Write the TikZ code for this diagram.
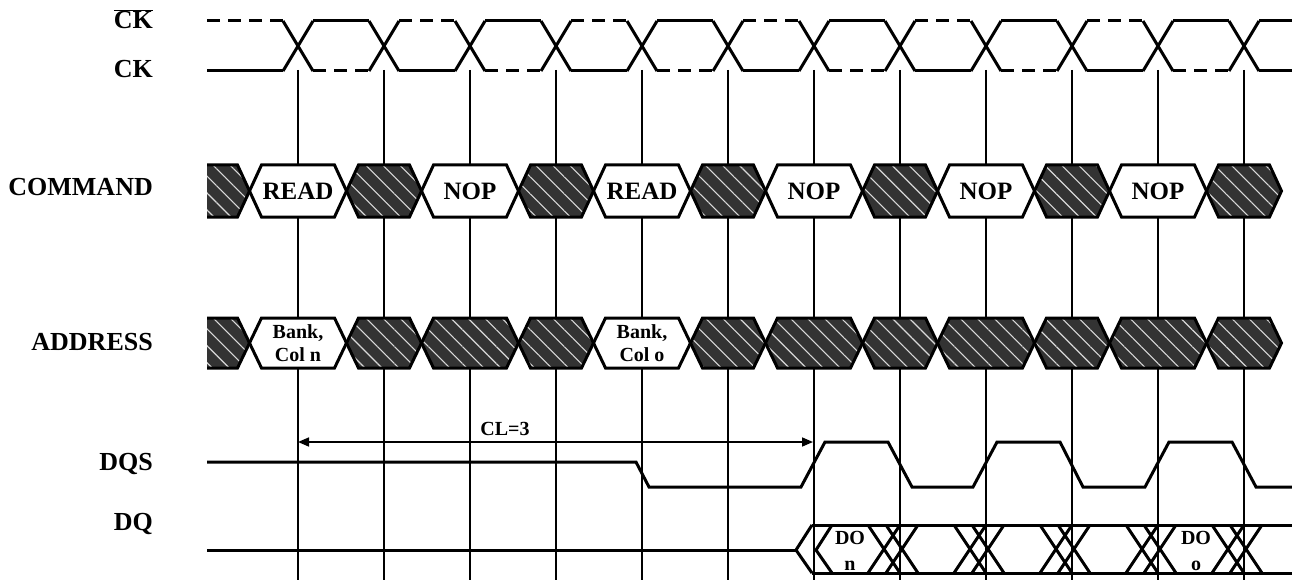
\documentclass[tikz,border=0pt]{standalone}
\usepackage{fontspec}
\setmainfont{Liberation Serif}
\usetikzlibrary{arrows.meta,patterns.meta}

\newcommand{\hexcell}[5]{%
  \draw[#1] ({#2-#3},{(#4+#5)/2}) -- ({#2-#3+12},#4) -- ({#2+#3-12},#4)
    -- ({#2+#3},{(#4+#5)/2}) -- ({#2+#3-12},#5) -- ({#2-#3+12},#5) -- cycle;}

\begin{document}
\begin{tikzpicture}[x=1pt, y=-1pt,
		sig/.style={line width=3pt},
		gridline/.style={line width=1.3pt},
		dashsig/.style={sig, dash pattern=on 13pt off 8pt},
		hatch/.style={preaction={fill=black!80}, pattern={Lines[angle=-45, distance=12pt, line width=1.1pt]}, pattern color=black!15},
		signame/.style={anchor=base east, inner sep=0pt, font=\fontsize{26}{28}\selectfont\bfseries},
		cmdtext/.style={inner sep=0pt, font=\fontsize{25}{27}\selectfont\bfseries},
		celltext/.style={inner sep=0pt, align=center, font=\fontsize{20}{23}\selectfont\bfseries},
		dotext/.style={inner sep=0pt, align=center, font=\fontsize{20}{26}\selectfont\bfseries}
		]
	\useasboundingbox (0,0) rectangle (1292,580);

	\node[signame] (ckbar) at (153,29) {$\overline{\mbox{CK}}$};
	\node[signame] (ck) at (153,78) {CK};
	\node[signame] (command) at (153,195.5) {COMMAND};
	\node[signame] (address) at (153,350.5) {ADDRESS};
	\node[signame] (dqs) at (153,470.5) {DQS};
	\node[signame] (dq) at (153,530.5) {DQ};

	\foreach \i in {0,...,11}
		\draw[gridline] ({298+86*\i},70) -- ({298+86*\i},580);

	\draw[dashsig] (207,21) -- (283,21);
	\draw[sig] (207,71) -- (283,71);
	\foreach \i in {0,...,11} {
		\pgfmathsetmacro\c{298+86*\i}
		\draw[sig] (\c-15,21) -- (\c+15,71) (\c-15,71) -- (\c+15,21);
	}
	\foreach \k in {0,2,...,10} {
		\pgfmathsetmacro\a{313+86*\k}
		\draw[sig] (\a,21) -- (\a+56,21);
		\draw[dashsig] (\a,71) -- (\a+56,71);
	}
	\foreach \k in {1,3,...,9} {
		\pgfmathsetmacro\a{313+86*\k}
		\draw[dashsig] (\a,21) -- (\a+56,21);
		\draw[sig] (\a,71) -- (\a+56,71);
	}
	\draw[sig] (1259,21) -- (1292,21) (1259,71) -- (1292,71);

	\fill[hatch] (207,165) -- (237.5,165) -- (249.5,191) -- (237.5,217) -- (207,217) -- cycle;
	\draw[sig] (207,165) -- (237.5,165) -- (249.5,191) -- (237.5,217) -- (207,217);
	\foreach \i/\txt in {0/READ,2/NOP,4/READ,6/NOP,8/NOP,10/NOP} {
		\pgfmathsetmacro\c{298+86*\i}
		\hexcell{sig,fill=white}{\c}{48.5}{165}{217}
		\node[cmdtext] (cmd\i) at (\c,191) {\txt};
	}
	\foreach \i in {1,3,...,11} {
		\pgfmathsetmacro\c{298+86*\i}
		\hexcell{sig,hatch}{\c}{37.5}{165}{217}
	}

	\fill[hatch] (207,318) -- (237.5,318) -- (249.5,343) -- (237.5,368) -- (207,368) -- cycle;
	\draw[sig] (207,318) -- (237.5,318) -- (249.5,343) -- (237.5,368) -- (207,368);
	\hexcell{sig,fill=white}{298}{48.5}{318}{368}
	\node[celltext] (addrn) at (298,343) {Bank,\\Col n};
	\hexcell{sig,fill=white}{642}{48.5}{318}{368}
	\node[celltext] (addro) at (642,343) {Bank,\\Col o};
	\foreach \i in {1,2,3,5,6,7,8,9,10,11} {
		\pgfmathsetmacro\c{298+86*\i}
		\pgfmathsetmacro\w{mod(\i,2)==0 ? 48.5 : 37.5}
		\hexcell{sig,hatch}{\c}{\w}{318}{368}
	}

	\coordinate (clstart) at (298,442);
	\coordinate (clend) at (813,442);
	\draw[line width=1.6pt, {Triangle[length=11pt,width=9pt]}-{Triangle[length=11pt,width=9pt]}] (clstart) -- (clend);
	\node[celltext] (cl) at (505,429) {CL=3};

	\draw[sig] (207,462) -- (636,462) -- (649,487) -- (801,487) -- (825,442) -- (888,442)
		-- (912,487) -- (973,487) -- (997,442) -- (1060,442) -- (1083,487) -- (1145,487)
		-- (1169,442) -- (1232,442) -- (1256,487) -- (1292,487);

	\draw[sig] (207,550) -- (796,550);
	\draw[sig] (812,525) -- (796,550) -- (812,573);
	\draw[sig] (812,525) -- (1292,525) (812,573) -- (1292,573);
	\draw[sig] (832,525) -- (816,550) -- (832,573);
	\foreach \i in {1,...,5} {
		\pgfmathsetmacro\xa{813+86*\i-15}
		\pgfmathsetmacro\xb{813+86*\i+3}
		\draw[sig] (\xa-16,525) -- (\xa+16,573) (\xa-16,573) -- (\xa+16,525);
		\draw[sig] (\xb-16,525) -- (\xb+16,573) (\xb-16,573) -- (\xb+16,525);
	}
	\node[dotext] (don) at (850,551) {DO\\n};
	\node[dotext] (doo) at (1196,551) {DO\\o};
\end{tikzpicture}
\end{document}
